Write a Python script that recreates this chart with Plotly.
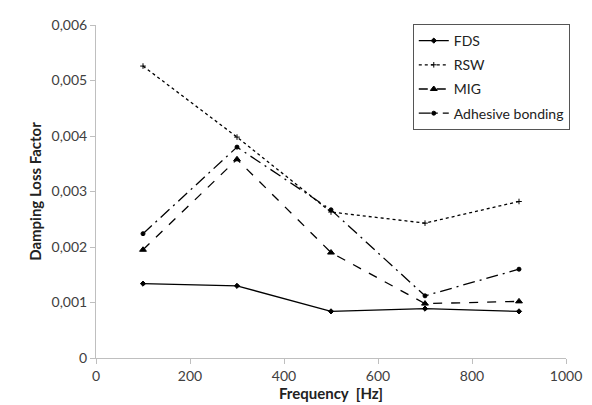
import plotly.graph_objects as go

freq = [100, 300, 500, 700, 900]
fds = [0.00134, 0.00130, 0.00084, 0.00089, 0.00084]
rsw = [0.00526, 0.00398, 0.00263, 0.00243, 0.00282]
mig = [0.00195, 0.00358, 0.00190, 0.00098, 0.00102]
adhesive = [0.00224, 0.00380, 0.00267, 0.00112, 0.00160]

series_names = ["FDS", "RSW", "MIG", "Adhesive bonding"]
y_tick_vals = [0, 0.001, 0.002, 0.003, 0.004, 0.005, 0.006]
y_tick_text = ["0", "0,001", "0,002", "0,003", "0,004", "0,005", "0,006"]
x_tick_vals = [0, 200, 400, 600, 800, 1000]

FONT = "Lato, Open Sans, sans-serif"
styles = [
    dict(dash="solid", symbol="diamond", size=4),
    dict(dash="dot", symbol="cross-thin", size=4),
    dict(dash="dash", symbol="triangle-up", size=6),
    dict(dash="12px,5px,2px,5px", symbol="circle", size=4),
]

fig = go.Figure()
for name, vals, st in zip(series_names, [fds, rsw, mig, adhesive], styles):
    fig.add_trace(go.Scatter(
        x=freq, y=vals, name=name, mode="lines+markers", legendgroup=name,
        line=dict(color="black", width=1.3, dash=st["dash"]),
        marker=dict(color="black", symbol=st["symbol"], size=st["size"],
                    line=dict(color="black", width=1)),
    ))

fig.update_layout(
    width=592, height=405,
    margin=dict(l=88, r=34, t=17, b=55, autoexpand=False),
    plot_bgcolor="white", paper_bgcolor="white",
    font=dict(family=FONT, size=14, color="#404040"),
    showlegend=True,
    legend=dict(
        x=0.674, y=1.003, xanchor="left", yanchor="top",
        bgcolor="white", bordercolor="#555555", borderwidth=1,
        font=dict(family=FONT, size=14, color="#222222"),
        tracegroupgap=3, itemwidth=30,
    ),
    xaxis=dict(
        range=[0, 1000], tickvals=x_tick_vals, showgrid=False, zeroline=False,
        showline=True, linecolor="#bfbfbf", linewidth=1, automargin=False,
        ticks="outside", ticklen=5, tickcolor="#bfbfbf",
        title=dict(text="<b>Frequency  [Hz]</b>", font=dict(size=15, color="#222222"), standoff=4),
    ),
    yaxis=dict(
        range=[0, 0.006], tickvals=y_tick_vals, ticktext=y_tick_text,
        showgrid=False, zeroline=False, automargin=False,
        showline=True, linecolor="#bfbfbf", linewidth=1,
        ticks="outside", ticklen=5, tickcolor="#bfbfbf",
        title=dict(text="<b>Damping Loss Factor</b>", font=dict(size=15, color="#222222"), standoff=6),
    ),
)

fig.write_html("out.html")
